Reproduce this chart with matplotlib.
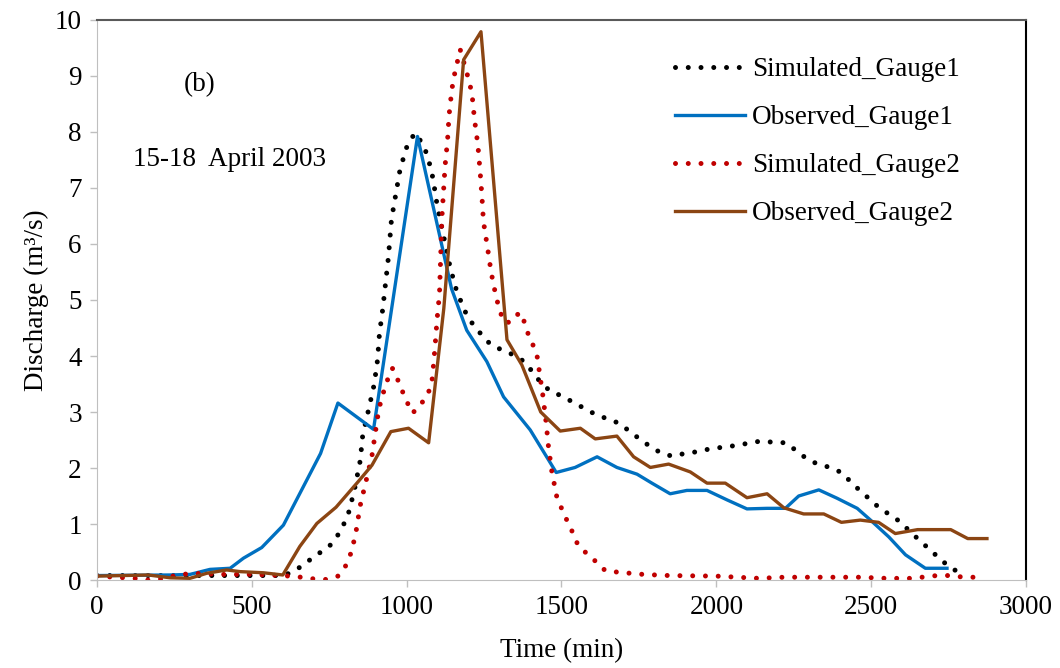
import matplotlib.pyplot as plt

plt.rcParams["font.family"] = ["Liberation Serif", "DejaVu Serif"]

# Simulated_Gauge1 (traced)
sim1_t = [0, 300, 600, 621, 656, 690, 723, 755, 780, 799, 815, 834, 850, 858, 877, 895, 906, 912, 923,
          941, 951, 965, 979, 1003, 1027, 1049, 1065, 1076, 1085, 1098, 1106, 1141, 1162, 1178, 1194,
          1216, 1245, 1272, 1307, 1345, 1380, 1406, 1431, 1462, 1499, 1536, 1572, 1609, 1647, 1686,
          1719, 1752, 1785, 1821, 1858, 1898, 1937, 1978, 2019, 2061, 2101, 2142, 2185, 2225, 2258,
          2291, 2327, 2368, 2404, 2433, 2463, 2494, 2524, 2559, 2594, 2621, 2652, 2684, 2714, 2745,
          2781, 2800]
sim1_q = [0.08, 0.08, 0.08, 0.12, 0.23, 0.37, 0.5, 0.63, 0.82, 1.02, 1.24, 1.68, 2.13, 2.58, 3.04, 3.49,
          3.93, 4.39, 4.85, 5.76, 6.44, 6.89, 7.34, 7.78, 7.98, 7.81, 7.61, 7.39, 7.17, 6.71, 6.49, 5.57,
          5.15, 4.94, 4.73, 4.55, 4.36, 4.2, 4.11, 4.02, 3.9, 3.72, 3.54, 3.38, 3.29, 3.18, 3.07, 2.96,
          2.88, 2.8, 2.66, 2.52, 2.39, 2.27, 2.21, 2.26, 2.29, 2.34, 2.37, 2.4, 2.44, 2.48, 2.46, 2.45,
          2.31, 2.17, 2.07, 2.01, 1.92, 1.76, 1.6, 1.45, 1.3, 1.17, 1.04, 0.89, 0.73, 0.57, 0.42, 0.27,
          0.14, 0.05]

# Observed_Gauge1
obs1_t = [0, 236, 300, 365, 430, 473, 532, 602, 722, 778, 893, 1035, 1145, 1194, 1259, 1313, 1399, 1483,
          1544, 1615, 1679, 1744, 1792, 1851, 1905, 1970, 2035, 2099, 2164, 2223, 2266, 2331, 2390,
          2455, 2498, 2557, 2611, 2675, 2745]
obs1_q = [0.08, 0.09, 0.1, 0.19, 0.21, 0.39, 0.58, 0.98, 2.26, 3.16, 2.69, 7.92, 5.2, 4.46, 3.9, 3.27,
          2.68, 1.92, 2.01, 2.2, 2.01, 1.89, 1.73, 1.54, 1.6, 1.6, 1.43, 1.27, 1.28, 1.28, 1.5, 1.61,
          1.46, 1.28, 1.07, 0.77, 0.45, 0.21, 0.21]

# Simulated_Gauge2 (traced)
sim2_t = [0, 120, 165, 210, 260, 310, 400, 500, 600, 660, 700, 740, 778, 801, 817, 828, 837, 850, 869,
          888, 906, 914, 925, 938, 954, 968, 984, 1001, 1019, 1042, 1067, 1081, 1085, 1092, 1098, 1106,
          1110, 1114, 1119, 1124, 1132, 1137, 1146, 1153, 1162, 1173, 1191, 1202, 1211, 1219, 1230,
          1237, 1243, 1248, 1261, 1273, 1289, 1300, 1313, 1334, 1365, 1380, 1392, 1410, 1423, 1428,
          1440, 1450, 1458, 1469, 1485, 1501, 1518, 1536, 1552, 1580, 1611, 1641, 1682, 1765, 1847,
          2000, 2137, 2218, 2300, 2465, 2549, 2631, 2713, 2754, 2800, 2840]
sim2_q = [0.07, 0.03, 0.0, 0.02, 0.09, 0.12, 0.1, 0.1, 0.08, 0.05, 0.02, 0.01, 0.07, 0.23, 0.43, 0.65,
          0.88, 1.33, 1.77, 2.22, 2.9, 3.13, 3.35, 3.57, 3.78, 3.62, 3.4, 3.18, 2.98, 3.11, 3.3, 3.51,
          3.73, 4.19, 4.64, 5.11, 5.79, 6.49, 6.93, 7.39, 7.85, 8.3, 8.76, 8.99, 9.21, 9.47, 9.12, 8.9,
          8.68, 8.23, 7.77, 7.31, 6.86, 6.4, 5.94, 5.49, 5.05, 4.83, 4.61, 4.6, 4.78, 4.61, 4.4, 4.17,
          3.96, 3.74, 3.29, 2.83, 2.38, 1.93, 1.48, 1.27, 1.06, 0.85, 0.64, 0.48, 0.33, 0.17, 0.14, 0.1,
          0.08, 0.07, 0.03, 0.05, 0.05, 0.05, 0.03, 0.03, 0.08, 0.08, 0.05, 0.05]

# Observed_Gauge2
obs2_t = [0, 166, 236, 300, 354, 419, 462, 537, 600, 655, 710, 772, 844, 888, 949, 1006, 1071, 1120,
          1184, 1240, 1324, 1372, 1433, 1496, 1561, 1609, 1679, 1733, 1787, 1846, 1916, 1970, 2029,
          2099, 2164, 2218, 2282, 2347, 2404, 2465, 2524, 2578, 2650, 2757, 2812, 2874]
obs2_q = [0.07, 0.09, 0.04, 0.03, 0.12, 0.18, 0.15, 0.13, 0.09, 0.6, 1.01, 1.3, 1.76, 2.05, 2.65, 2.71,
          2.45, 4.85, 9.29, 9.79, 4.29, 3.84, 3.0, 2.66, 2.71, 2.52, 2.57, 2.2, 2.01, 2.07, 1.93, 1.73,
          1.73, 1.47, 1.54, 1.29, 1.18, 1.18, 1.03, 1.07, 1.03, 0.83, 0.9, 0.9, 0.74, 0.74]

x_ticks = [0, 500, 1000, 1500, 2000, 2500, 3000]
y_ticks = list(range(0, 11))

FS = 19.5
dots = (0, (0.001, 2.55))

fig = plt.figure(figsize=(10.6, 6.68), dpi=100)
ax = fig.add_axes([0.0915, 0.1317, 0.8764, 0.8384])

ax.plot(sim1_t, sim1_q, color="black", lw=3.6, linestyle=dots, dash_capstyle="round",
        label="Simulated_Gauge1")
ax.plot(obs1_t, obs1_q, color="#0070C0", lw=2.4, label="Observed_Gauge1")
ax.plot(sim2_t, sim2_q, color="#C00000", lw=3.6, linestyle=dots, dash_capstyle="round",
        label="Simulated_Gauge2")
ax.plot(obs2_t, obs2_q, color="#8B4513", lw=2.4, label="Observed_Gauge2")

ax.set_xlim(0, 3000)
ax.set_ylim(0, 10)
ax.set_xticks(x_ticks)
ax.set_yticks(y_ticks)
ax.tick_params(axis="both", labelsize=FS, length=5, width=1, color="#BFBFBF", pad=6)

for side in ["left", "bottom"]:
    ax.spines[side].set_color("#BFBFBF")
ax.spines["top"].set_color("#595959")
ax.spines["top"].set_linewidth(1.5)
ax.spines["right"].set_color("black")
ax.spines["right"].set_linewidth(1.5)

ax.set_xlabel("Time (min)", fontsize=FS, labelpad=13)
ax.set_ylabel("Discharge (m³/s)", fontsize=FS, labelpad=4)

ax.text(333, 8.84, "(b)", fontsize=FS, ha="center", va="center")
ax.text(116, 7.5, "15-18  April 2003", fontsize=FS, ha="left", va="center")

fig.legend(loc="upper left", bbox_to_anchor=(0.6368, 0.9147), frameon=False, fontsize=FS,
           handlelength=2.6, handletextpad=0.25, labelspacing=0.85, borderpad=0, borderaxespad=0)

fig.savefig("out.png", dpi=100)
